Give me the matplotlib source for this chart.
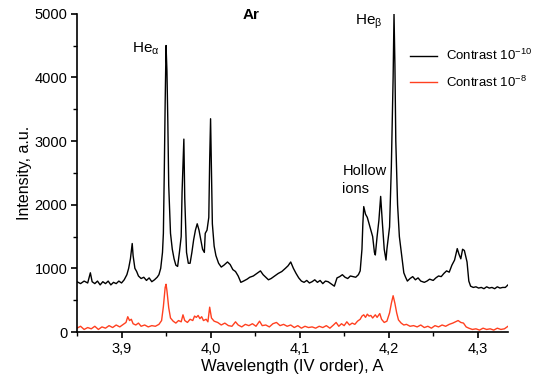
import matplotlib
matplotlib.use("Agg")
import matplotlib.pyplot as plt
from matplotlib.ticker import MultipleLocator, FuncFormatter

plt.rcParams["font.family"] = ["Liberation Sans", "DejaVu Sans"]
plt.rcParams["mathtext.fontset"] = "custom"
plt.rcParams["mathtext.rm"] = "Liberation Sans"
plt.rcParams["mathtext.it"] = "Liberation Sans:italic"
plt.rcParams["mathtext.default"] = "regular"

BLACK, RED = "#000000", "#ff4020"

# ── contrast 1e-10 spectrum (black) ──
wl_black = [3.850, 3.854, 3.858, 3.862, 3.865, 3.867, 3.870, 3.873, 3.876, 3.879,
            3.882, 3.885, 3.888, 3.891, 3.894, 3.897, 3.900, 3.903, 3.906, 3.908,
            3.910, 3.912, 3.913, 3.915, 3.917, 3.919, 3.922, 3.925, 3.928, 3.931,
            3.934, 3.937, 3.940, 3.942, 3.944, 3.946, 3.947, 3.948, 3.949, 3.950,
            3.951, 3.952, 3.953, 3.955, 3.957, 3.959, 3.961, 3.963, 3.965, 3.967,
            3.968, 3.970, 3.971, 3.973, 3.975, 3.977, 3.979, 3.981, 3.983, 3.985,
            3.987, 3.989, 3.991, 3.993, 3.994, 3.996, 3.998, 3.999, 4.000, 4.001,
            4.002, 4.004, 4.006, 4.009, 4.012, 4.015, 4.019, 4.022, 4.025, 4.028,
            4.031, 4.034, 4.037, 4.041, 4.044, 4.048, 4.052, 4.056, 4.059, 4.062,
            4.065, 4.068, 4.072, 4.076, 4.080, 4.084, 4.087, 4.090, 4.093, 4.096,
            4.099, 4.102, 4.105, 4.108, 4.111, 4.114, 4.117, 4.120, 4.123, 4.126,
            4.129, 4.132, 4.135, 4.139, 4.142, 4.145, 4.148, 4.151, 4.154, 4.157,
            4.160, 4.163, 4.166, 4.168, 4.170, 4.171, 4.172, 4.174, 4.176, 4.178,
            4.180, 4.182, 4.184, 4.185, 4.187, 4.189, 4.191, 4.193, 4.195, 4.197,
            4.198, 4.201, 4.203, 4.205, 4.206, 4.207, 4.208, 4.210, 4.212, 4.215,
            4.217, 4.219, 4.221, 4.224, 4.227, 4.230, 4.233, 4.236, 4.240, 4.243,
            4.246, 4.250, 4.253, 4.256, 4.259, 4.262, 4.265, 4.268, 4.271, 4.274,
            4.277, 4.279, 4.281, 4.283, 4.285, 4.288, 4.290, 4.292, 4.295, 4.298,
            4.301, 4.304, 4.307, 4.310, 4.313, 4.316, 4.319, 4.322, 4.325, 4.328,
            4.331, 4.334]
int_black = [790, 760, 800, 770, 930, 790, 760, 800, 740, 790,
             760, 800, 740, 780, 760, 800, 770, 820, 900, 1000,
             1150, 1390, 1200, 1000, 950, 880, 840, 860, 810, 850,
             790, 820, 860, 900, 1000, 1250, 1550, 2500, 3600, 4500,
             4100, 3300, 2300, 1550, 1300, 1150, 1050, 1030, 1250, 1500,
             2200, 3030, 2100, 1250, 1080, 1080, 1250, 1450, 1600, 1700,
             1600, 1450, 1300, 1250, 1550, 1600, 1800, 2700, 3350, 2500,
             1700, 1350, 1200, 1080, 1020, 1050, 1100, 1060, 980, 950,
             880, 780, 800, 830, 860, 880, 920, 960, 900, 860,
             820, 840, 880, 920, 950, 1000, 1040, 1100, 1000, 920,
             850, 800, 780, 810, 770, 790, 820, 780, 810, 760,
             800, 790, 760, 720, 850, 870, 900, 860, 840, 880,
             870, 860, 900, 960, 1300, 1700, 1970, 1850, 1800, 1700,
             1600, 1500, 1250, 1210, 1500, 1750, 2130, 1700, 1300, 1130,
             1300, 1650, 2600, 4000, 5000, 4200, 3000, 2000, 1500, 1150,
             930, 860, 800, 840, 870, 820, 850, 800, 780, 800,
             830, 810, 850, 880, 870, 920, 960, 940, 1050, 1130,
             1310, 1220, 1150, 1300, 1280, 1100, 800, 720, 700, 710,
             690, 700, 680, 710, 690, 700, 680, 710, 690, 700,
             700, 740]

# ── contrast 1e-8 spectrum (red) ──
wl_red = [3.850, 3.854, 3.858, 3.862, 3.866, 3.870, 3.874, 3.878, 3.882, 3.886,
          3.890, 3.894, 3.898, 3.902, 3.905, 3.907, 3.909, 3.911, 3.913, 3.916,
          3.919, 3.922, 3.926, 3.930, 3.934, 3.938, 3.942, 3.945, 3.947, 3.949,
          3.950, 3.951, 3.953, 3.955, 3.958, 3.961, 3.964, 3.967, 3.969, 3.971,
          3.974, 3.977, 3.980, 3.982, 3.984, 3.986, 3.988, 3.990, 3.992, 3.995,
          3.997, 3.999, 4.001, 4.004, 4.008, 4.012, 4.016, 4.020, 4.024, 4.028,
          4.031, 4.035, 4.039, 4.043, 4.047, 4.051, 4.055, 4.058, 4.062, 4.066,
          4.070, 4.074, 4.078, 4.082, 4.086, 4.090, 4.094, 4.098, 4.102, 4.106,
          4.110, 4.114, 4.118, 4.122, 4.126, 4.130, 4.134, 4.138, 4.141, 4.144,
          4.147, 4.150, 4.153, 4.156, 4.159, 4.162, 4.165, 4.168, 4.170, 4.172,
          4.174, 4.176, 4.178, 4.180, 4.182, 4.185, 4.187, 4.190, 4.192, 4.195,
          4.198, 4.201, 4.203, 4.205, 4.207, 4.209, 4.211, 4.214, 4.217, 4.220,
          4.224, 4.228, 4.232, 4.236, 4.240, 4.244, 4.248, 4.252, 4.256, 4.260,
          4.264, 4.268, 4.272, 4.275, 4.278, 4.281, 4.284, 4.287, 4.290, 4.294,
          4.298, 4.302, 4.306, 4.310, 4.314, 4.318, 4.322, 4.326, 4.330, 4.334]
int_red = [60, 90, 40, 70, 50, 90, 40, 80, 60, 100,
           70, 110, 80, 120, 150, 240, 180, 200, 130, 110,
           140, 90, 110, 80, 100, 90, 120, 180, 400, 700,
           750, 650, 380, 220, 170, 140, 180, 160, 270, 180,
           150, 200, 180, 250, 230, 260, 210, 240, 180, 200,
           160, 390, 220, 170, 150, 110, 140, 100, 90, 160,
           110, 80, 120, 100, 130, 90, 170, 100, 110, 80,
           130, 150, 100, 120, 90, 110, 70, 100, 60, 90,
           70, 80, 60, 90, 70, 100, 60, 110, 150, 90,
           130, 100, 160, 110, 140, 120, 170, 200, 250, 270,
           230, 280, 250, 260, 220, 270, 230, 290, 200, 150,
           170, 300, 450, 570, 450, 300, 190, 140, 110, 120,
           90, 100, 80, 110, 70, 90, 60, 100, 80, 110,
           90, 120, 140, 160, 180, 150, 140, 80, 60, 40,
           50, 30, 60, 40, 50, 30, 60, 40, 50, 90]

labels = ["Contrast 10$^{-10}$", "Contrast 10$^{-8}$"]

fig = plt.figure(figsize=(5.37, 3.90), dpi=100)
ax = fig.add_axes([77 / 537, 1 - 332 / 390, 431 / 537, 318.3 / 390])

ax.plot(wl_black, int_black, color=BLACK, lw=1.0, label=labels[0])
ax.plot(wl_red, int_red, color=RED, lw=1.0, label=labels[1])

ax.set_xlim(3.85, 4.334)
ax.set_ylim(0, 5000)
for s in ("top", "right"):
    ax.spines[s].set_visible(False)
for s in ("left", "bottom"):
    ax.spines[s].set_linewidth(1.2)

ax.xaxis.set_major_locator(MultipleLocator(0.1))
ax.xaxis.set_minor_locator(MultipleLocator(0.05))
ax.yaxis.set_major_locator(MultipleLocator(1000))
ax.yaxis.set_minor_locator(MultipleLocator(500))
ax.xaxis.set_major_formatter(FuncFormatter(lambda v, p: f"{v:.1f}".replace(".", ",")))
ax.tick_params(which="major", direction="out", length=4, width=1.2, labelsize=10.5, pad=3)
ax.tick_params(which="minor", direction="out", length=3, width=1.0)

ax.set_xlabel("Wavelength (IV order), A", fontsize=12, labelpad=2)
ax.set_ylabel("Intensity, a.u.", fontsize=11.5, labelpad=2)

ax.legend(loc="upper left", bbox_to_anchor=((405 - 77) / 431, 1 - 29 / 318.3),
          frameon=False, fontsize=9.5, handlelength=2.0, handletextpad=0.7,
          labelspacing=0.85, borderaxespad=0)

fig.text(251 / 537, 1 - 15 / 390, "Ar", fontsize=11, fontweight="bold",
         ha="center", va="center")
ax.text(3.927, 4443, r"He$_{\alpha}$", fontsize=11, ha="center", va="center")
ax.text(4.1775, 4867, r"He$_{\beta}$", fontsize=11, ha="center", va="center")
ax.text(4.148, 2386, "Hollow\nions", fontsize=10.5, ha="left", va="center",
        linespacing=1.3)

fig.savefig("out.png", dpi=100, facecolor="white")
